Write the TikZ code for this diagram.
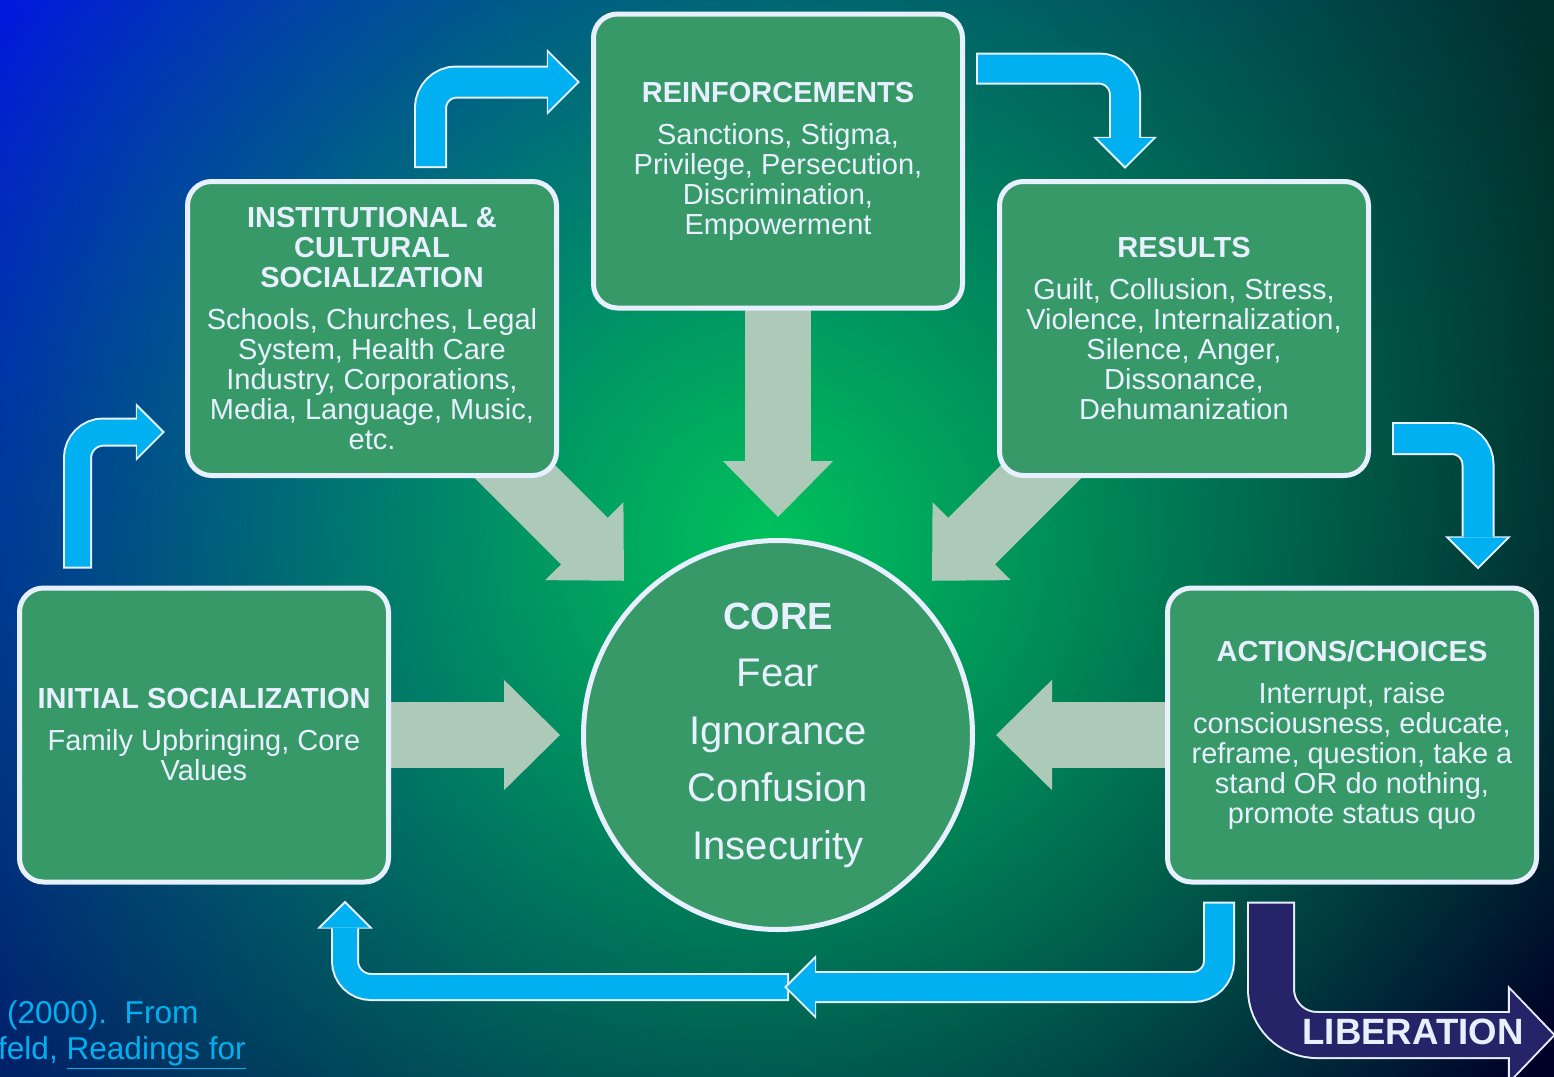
\documentclass[tikz,border=0pt]{standalone}
\usepackage{fontspec}
\setmainfont{Liberation Sans}
\usetikzlibrary{arrows.meta,calc,fadings,shadings}

\definecolor{bgblue}{RGB}{2,26,222}
\definecolor{bgteal}{RGB}{0,50,44}
\definecolor{bgdeep}{RGB}{0,34,104}
\definecolor{bgnight}{RGB}{0,0,40}
\definecolor{glowgreen}{RGB}{0,194,92}
\definecolor{boxgreen}{RGB}{56,153,104}
\definecolor{boxline}{RGB}{232,240,255}
\definecolor{flowgray}{RGB}{173,201,184}
\definecolor{cyclecyan}{RGB}{0,176,240}
\definecolor{exitnavy}{RGB}{38,36,104}

\pgfdeclarelayer{background}
\pgfdeclarelayer{flows}
\pgfsetlayers{background,flows,main}

\tikzfading[name=glowfade, inner color=transparent!0, outer color=transparent!100]

\begin{document}
\begin{tikzpicture}[x=0.5pt, y=-0.5pt,
    box/.style={draw=boxline, line width=2.5pt, fill=boxgreen, rounded corners=12pt,
        minimum width=184.5pt, minimum height=147pt, align=center, text=boxline,
        font=\fontsize{14.5}{15}\selectfont},
    core/.style={draw=boxline, line width=2.5pt, fill=boxgreen, circle,
        minimum size=194.5pt, align=center, text=boxline,
        font=\fontsize{20}{28.75}\selectfont},
    flow/.style={draw=flowgray, line width=33pt, shorten >=10.5pt,
        -{Triangle[length=28pt, width=55pt, line width=1pt]}},
    cycle/.style={draw=cyclecyan, line width=#1, rounded corners=13pt,
        -{Triangle[length=0pt 1, width=0pt 2, line width=0pt]},
        preaction={draw=boxline, line width=#1+2pt, shorten >=-1.4pt, shorten <=-1pt,
            -{Triangle[length=0pt 1, width=0pt 2, line width=0pt]}}},
    exit/.style={draw=exitnavy, line width=22pt, rounded corners=23pt,
        -{Triangle[length=21.5pt, width=45pt, line width=0pt]},
        preaction={draw=boxline, line width=24pt, shorten >=-1.4pt, shorten <=-1pt,
            -{Triangle[length=24pt, width=50pt, line width=0pt]}}},
    cite/.style={anchor=west, text=cyclecyan, font=\fontsize{15.8}{18}\selectfont}]

    \useasboundingbox (0,0) rectangle (1554,1077);
    \clip (0,0) rectangle (1554,1077);

    % Backdrop: blue to night, green glow behind the core
    \begin{pgfonlayer}{background}
        \shade[upper left=bgblue, upper right=bgteal, lower left=bgdeep, lower right=bgnight]
            (0,0) rectangle (1554,1077);
        \fill[glowgreen, path fading=glowfade] (770,540) circle (920);
    \end{pgfonlayer}

    % Core
    \node[core] (core) at (778,735) {{\bfseries\fontsize{19}{28.75}\selectfont CORE}\\
        Fear\\ Ignorance\\ Confusion\\ Insecurity};

    % The five stages
    \node[box] (initial) at (204,735) {\textbf{INITIAL SOCIALIZATION}\\[6pt]
        Family Upbringing, Core\\ Values};
    \node[box] (inst) at (372,328.5) {\textbf{INSTITUTIONAL \&}\\ \textbf{CULTURAL}\\
        \textbf{SOCIALIZATION}\\[6pt] Schools, Churches, Legal\\ System, Health Care\\
        Industry, Corporations,\\ Media, Language, Music,\\ etc.};
    \node[box] (reinf) at (778,161) {\textbf{REINFORCEMENTS}\\[6pt] Sanctions, Stigma,\\
        Privilege, Persecution,\\ Discrimination,\\ Empowerment};
    \node[box] (results) at (1184,328.5) {\textbf{RESULTS}\\[6pt] Guilt, Collusion, Stress,\\
        Violence, Internalization,\\ Silence, Anger,\\ Dissonance,\\ Dehumanization};
    \node[box] (actions) at (1352,735) {\textbf{ACTIONS/CHOICES}\\[6pt] Interrupt, raise\\
        consciousness, educate,\\ reframe, question, take a\\ stand OR do nothing,\\
        promote status quo};

    % Everything feeds the core
    \begin{pgfonlayer}{flows}
        \draw[flow] (initial.center) -- (core);
        \draw[flow] (inst.center) -- (core);
        \draw[flow] (reinf.center) -- (core);
        \draw[flow] (results.center) -- (core);
        \draw[flow] (actions.center) -- (core);
    \end{pgfonlayer}

    % The cycle
    \draw[cycle=12.5pt] ($(initial.north west)+(60.5,-19)$) |- ($(inst.south west)+(-23,-46)$);
    \draw[cycle=14.5pt] ($(inst.north west)+(245.5,-13)$) |- ($(reinf.north west)+(-14,70.5)$);
    \draw[cycle=14pt] ($(reinf.north east)+(13,57)$) -| ($(results.north west)+(128,-13)$);
    \draw[cycle=14.5pt] ($(results.south east)+(23,-39.5)$) -| ($(actions.north east)+(-61,-19)$);
    \coordinate (turn) at ($(core.south)+(9,55)$);
    \draw[cycle=12pt] (turn) -| ($(initial.south west)+(328,19)$);
    \draw[cycle=14pt] ($(actions.south west)+(54,19)$) |- (turn);

    % Way out of the cycle
    \coordinate (libtip) at (1553,1035);
    \draw[exit] ($(actions.south west)+(106,19)$) |- (libtip);
    \node[text=boxline, font=\fontsize{18.3}{18}\bfseries] (libtext) at (1413,1032) {LIBERATION};

    % Source
    \node[cite] (cite1) at (0,1015) {(2000).\ \ From};
    \node[cite] (cite2) at (-9,1053) {feld, \underline{Readings for}};
\end{tikzpicture}
\end{document}
